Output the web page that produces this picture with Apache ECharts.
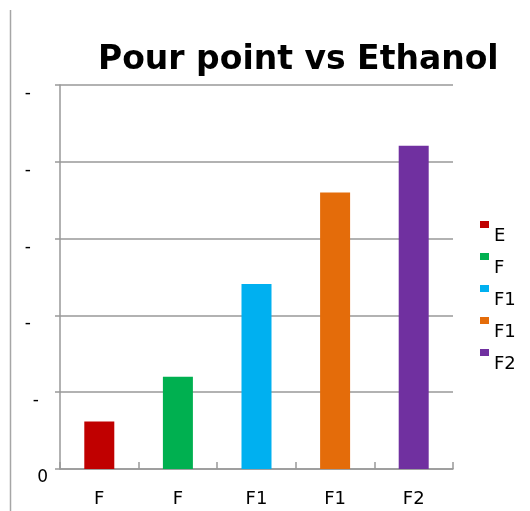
<!DOCTYPE html>
<html>
<head>
<meta charset="utf-8">
<script src="https://cdn.jsdelivr.net/npm/echarts@6/dist/echarts.min.js"></script>
<style>
html,body{margin:0;padding:0;background:#fff;}
#chart{width:530px;height:511px;}
</style>
</head>
<body>
<div id="chart"></div>
<script>
// ---- data ----
const titleText = 'Pour point vs Ethanol';
const categories = ['F', 'F', 'F1', 'F1', 'F2'];
const legendNames = ['E', 'F', 'F1', 'F1', 'F2'];
const values = [0.62, 1.20, 2.41, 3.60, 4.21];
const colors = ['#c00000', '#00b050', '#00b0f0', '#e46c0a', '#7030a0'];
const yTickValues = [0, 1, 2, 3, 4, 5];
const yTickLabels = ['0', '-', '-', '-', '-', '-'];

// ---- build ----
const usedNames = {};
const seriesNames = legendNames.map(n => {
  let s = n;
  while (usedNames[s]) s += ' ';
  usedNames[s] = true;
  return s;
});

const series = values.map((v, i) => ({
  name: seriesNames[i],
  type: 'bar',
  stack: 'all',
  barWidth: 30,
  itemStyle: { color: colors[i] },
  data: categories.map((c, j) => (j === i ? v : '-'))
}));

// per-tick horizontal distance of the label from the axis line
const labelMargins = [12, 21, 29, 29, 29, 29];

const chart = echarts.init(document.getElementById('chart'), null, { renderer: 'canvas' });
chart.setOption({
  animation: false,
  backgroundColor: '#ffffff',
  title: {
    text: titleText,
    left: 93,
    top: 39,
    textStyle: { fontFamily: 'DejaVu Sans', fontWeight: 'bold', fontSize: 33, color: '#000' }
  },
  grid: { left: 60, right: 77, top: 85, bottom: 42, containLabel: false },
  legend: {
    orient: 'vertical',
    left: 480,
    top: 201.5,
    padding: 0,
    itemWidth: 9,
    itemHeight: 7,
    itemGap: -14,
    icon: 'rect',
    data: seriesNames,
    formatter: n => '\n' + n.trim(),
    textStyle: { fontFamily: 'DejaVu Sans', fontSize: 18, color: '#000', lineHeight: 23 }
  },
  graphic: [{
    type: 'line',
    shape: { x1: 10.5, y1: 10, x2: 10.5, y2: 511 },
    style: { stroke: '#a6a6a6', lineWidth: 1.5 },
    silent: true
  }],
  xAxis: {
    type: 'category',
    data: categories,
    axisLine: { show: true, lineStyle: { color: '#999', width: 1.5 } },
    axisTick: { show: true, inside: true, length: 7, lineStyle: { color: '#999', width: 1.5 } },
    axisLabel: { margin: 21, fontFamily: 'DejaVu Sans', fontSize: 18, color: '#000' },
    splitLine: { show: false }
  },
  yAxis: {
    type: 'value',
    min: 0,
    max: 5,
    interval: 1,
    axisLine: { show: true, lineStyle: { color: '#999', width: 1.5 } },
    axisTick: { show: true, length: 5, lineStyle: { color: '#999', width: 1.5 } },
    splitLine: { show: true, lineStyle: { color: '#999', width: 1.5 } },
    axisLabel: {
      margin: 0,
      align: 'right',
      verticalAlign: 'top',
      fontFamily: 'DejaVu Sans',
      fontSize: 17,
      color: '#000',
      formatter: function (val) {
        const idx = yTickValues.indexOf(val);
        if (idx < 0) return '';
        return '{t|' + yTickLabels[idx] + '}{g' + labelMargins[idx] + '|}';
      },
      rich: (function () {
        const r = { t: { fontFamily: 'DejaVu Sans', fontSize: 17, color: '#000' } };
        labelMargins.forEach(m => { r['g' + m] = { width: m, height: 1 }; });
        return r;
      })()
    }
  },
  series: series
});
</script>
</body>
</html>
